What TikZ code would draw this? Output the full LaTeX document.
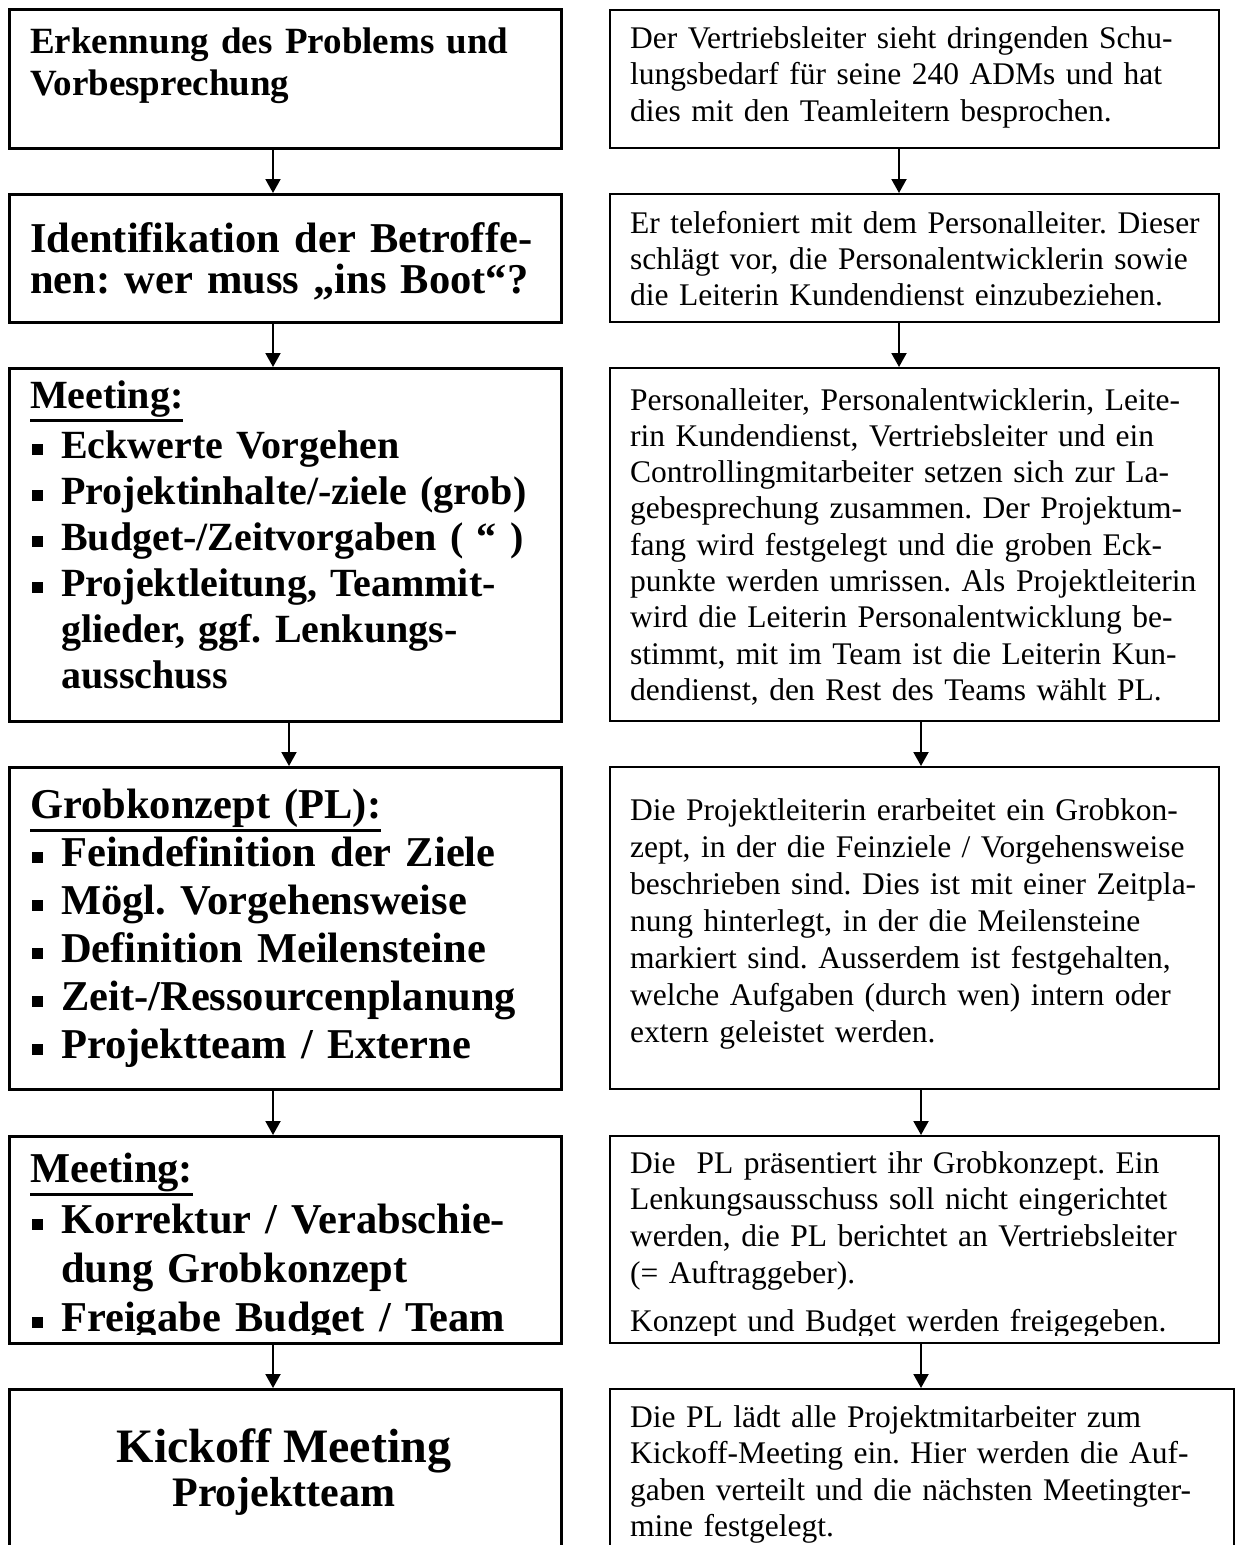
\documentclass[tikz,border=0pt]{standalone}
\usepackage{fontspec}
\setmainfont{Liberation Serif}
\usetikzlibrary{arrows.meta}
\frenchspacing
\newsavebox\ulbox
\newcommand\ulin[1]{\sbox\ulbox{#1}\rlap{\rule[-14pt]{\wd\ulbox}{3pt}}\usebox\ulbox}
\newcommand\bsq{\makebox[31pt][l]{\hspace*{2pt}\rule[3.5pt]{10.5pt}{10.5pt}}}
\newcommand\bind{\hspace*{31pt}}
\begin{document}
\begin{tikzpicture}[x=1pt,y=-1pt,
  lbox/.style={draw, line width=2.6pt, inner sep=0pt, anchor=north west},
  rbox/.style={draw, line width=2pt, inner sep=0pt, anchor=north west},
  arr/.style={line width=2pt, -{Triangle[width=15pt,length=14pt]}},
  ltxt/.style={anchor=base west, inner sep=0pt, align=left, text width=600pt},
  rtxt/.style={anchor=base west, inner sep=0pt, align=left, text width=650pt},
  ctxt/.style={anchor=base, inner sep=0pt}]
\clip (0,0) rectangle (1237,1545);
\fill[white] (0,0) rectangle (1237,1545);

% left boxes
\node[lbox, minimum width=552pt, minimum height=139pt] (L1) at (8,8) {};
\node[lbox, minimum width=552pt, minimum height=128pt] (L2) at (8,193) {};
\node[lbox, minimum width=552pt, minimum height=353pt] (L3) at (8,367) {};
\node[lbox, minimum width=552pt, minimum height=322pt] (L4) at (8,766) {};
\node[lbox, minimum width=552pt, minimum height=207pt] (L5) at (8,1135) {};
\node[lbox, minimum width=552pt, minimum height=220pt] (L6) at (8,1388) {};

% right boxes
\node[rbox, minimum width=609pt, minimum height=138pt] (R1) at (609,9) {};
\node[rbox, minimum width=609pt, minimum height=128pt] (R2) at (609,193) {};
\node[rbox, minimum width=609pt, minimum height=353pt] (R3) at (609,367) {};
\node[rbox, minimum width=609pt, minimum height=322pt] (R4) at (609,766) {};
\node[rbox, minimum width=609pt, minimum height=207pt] (R5) at (609,1135) {};
\node[rbox, minimum width=624pt, minimum height=220pt] (R6) at (609,1388) {};

% left texts
\node[ltxt, font=\bfseries\fontsize{37}{42}\selectfont] (t1) at (30,53)
  {Erkennung des Problems und\\Vorbesprechung};
\node[ltxt, font=\bfseries\fontsize{42.5}{41}\selectfont] (t2) at (30,252)
  {Identifikation der Betroffe-\\nen: wer muss „ins Boot“?};
\node[ltxt, font=\bfseries\fontsize{40}{46}\selectfont] (t3) at (30,408)
  {\ulin{Meeting:}\\[4pt]\bsq Eckwerte Vorgehen\\\bsq Projektinhalte/-ziele (grob)\\\bsq Budget-/Zeitvorgaben ( “ )\\\bsq Projektleitung, Teammit-\\\bind glieder, ggf. Lenkungs-\\\bind ausschuss};
\node[ltxt, font=\bfseries\fontsize{42.5}{48}\selectfont] (t4) at (30,818)
  {\ulin{Grobkonzept (PL):}\\\bsq Feindefinition der Ziele\\\bsq Mögl. Vorgehensweise\\\bsq Definition Meilensteine\\\bsq Zeit-/Ressourcenplanung\\\bsq Projektteam / Externe};
\begin{scope}
\clip (8,1135) rectangle (560,1334);
\node[ltxt, font=\bfseries\fontsize{42.5}{49}\selectfont] (t5) at (30,1182)
  {\ulin{Meeting:}\\[2pt]\bsq Korrektur / Verabschie-\\\bind dung Grobkonzept\\\bsq Freigabe Budget / Team};
\end{scope}
\node[ctxt, font=\bfseries\fontsize{48}{50}\selectfont] (t6a) at (284,1462) {Kickoff Meeting};
\node[ctxt, font=\bfseries\fontsize{42}{44}\selectfont] (t6b) at (284,1506) {Projektteam};

% right texts
\node[rtxt, font=\fontsize{31.5}{36.6}\selectfont] (r1) at (630,48)
  {Der Vertriebsleiter sieht dringenden Schu-\\lungsbedarf für seine 240 ADMs und hat\\dies mit den Teamleitern besprochen.};
\node[rtxt, font=\fontsize{31.5}{36.4}\selectfont] (r2) at (630,233)
  {Er telefoniert mit dem Personalleiter. Dieser\\schlägt vor, die Personalentwicklerin sowie\\die Leiterin Kundendienst einzubeziehen.};
\node[rtxt, font=\fontsize{31.5}{36.3}\selectfont] (r3) at (630,410)
  {Personalleiter, Personalentwicklerin, Leite-\\rin Kundendienst, Vertriebsleiter und ein\\Controllingmitarbeiter setzen sich zur La-\\gebesprechung zusammen. Der Projektum-\\fang wird festgelegt und die groben Eck-\\punkte werden umrissen. Als Projektleiterin\\wird die Leiterin Personalentwicklung be-\\stimmt, mit im Team ist die Leiterin Kun-\\dendienst, den Rest des Teams wählt PL.};
\node[rtxt, font=\fontsize{31.5}{37}\selectfont] (r4) at (630,820)
  {Die Projektleiterin erarbeitet ein Grobkon-\\zept, in der die Feinziele / Vorgehensweise\\beschrieben sind. Dies ist mit einer Zeitpla-\\nung hinterlegt, in der die Meilensteine\\markiert sind. Ausserdem ist festgehalten,\\welche Aufgaben (durch wen) intern oder\\extern geleistet werden.};
\begin{scope}
\clip (609,1135) rectangle (1218,1335);
\node[rtxt, font=\fontsize{31.5}{36.7}\selectfont] (r5) at (630,1173)
  {Die~ PL präsentiert ihr Grobkonzept. Ein\\Lenkungsausschuss soll nicht eingerichtet\\werden, die PL berichtet an Vertriebsleiter\\(= Auftraggeber).\\[12pt]Konzept und Budget werden freigegeben.};
\end{scope}
\node[rtxt, font=\fontsize{31.5}{36.5}\selectfont] (r6) at (630,1427)
  {Die PL lädt alle Projektmitarbeiter zum\\Kickoff-Meeting ein. Hier werden die Auf-\\gaben verteilt und die nächsten Meetingter-\\mine festgelegt.};

% connectors
\coordinate (xa) at (273,0);
\coordinate (xb) at (289,0);
\coordinate (xc) at (899,0);
\coordinate (xd) at (921,0);
\draw[arr] (L1.south -| xa) -- (L2.north -| xa);
\draw[arr] (L2.south -| xa) -- (L3.north -| xa);
\draw[arr] (L3.south -| xb) -- (L4.north -| xb);
\draw[arr] (L4.south -| xa) -- (L5.north -| xa);
\draw[arr] (L5.south -| xa) -- (L6.north -| xa);
\draw[arr] (R1.south -| xc) -- (R2.north -| xc);
\draw[arr] (R2.south -| xc) -- (R3.north -| xc);
\draw[arr] (R3.south -| xd) -- (R4.north -| xd);
\draw[arr] (R4.south -| xd) -- (R5.north -| xd);
\draw[arr] (R5.south -| xd) -- (R6.north -| xd);
\end{tikzpicture}
\end{document}
